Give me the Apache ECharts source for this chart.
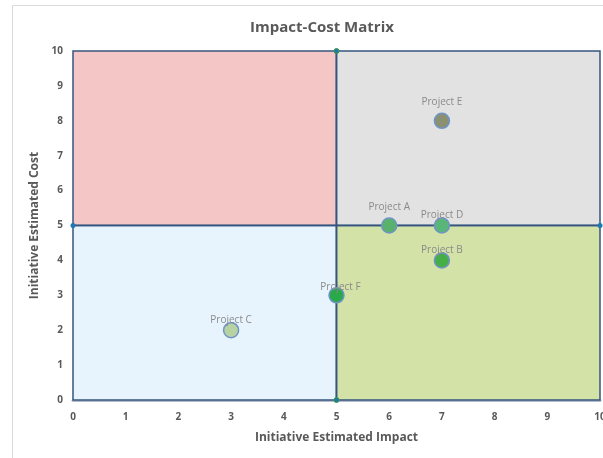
<!DOCTYPE html>
<html>
<head>
<meta charset="utf-8">
<script src="https://cdn.jsdelivr.net/npm/echarts@6/dist/echarts.min.js"></script>
<style>
  html, body { margin: 0; padding: 0; background: #fff; }
  #main { width: 603px; height: 458px; }
</style>
</head>
<body>
<div id="main"></div>
<script>
// data
var projectNames = ['Project A', 'Project B', 'Project C', 'Project D', 'Project E', 'Project F'];
var impact = [6, 7, 3, 7, 7, 5];
var cost = [5, 4, 2, 5, 8, 3];
var midImpact = 5;
var midCost = 5;

// styles
var pointColors = ['#58b26c', '#46ae47', '#b7d2a3', '#5ab579', '#8b9170', '#2aa94b'];
var labelGap = [5, -3, -3, -3, 5, -5];
var quadColors = { topLeft: '#f5c6c6', topRight: '#e2e2e2', bottomLeft: '#e8f4fd', bottomRight: '#d3e2a7' };
var edge = '#34557f';

var chartDom = document.getElementById('main');
var myChart = echarts.init(chartDom);
var option;

var points = projectNames.map(function (name, i) {
  return {
    name: name,
    value: [impact[i], cost[i]],
    itemStyle: { color: pointColors[i] },
    label: { distance: labelGap[i], offset: i === 5 ? [4, 0] : [0, 0] }
  };
});

option = {
  animation: false,
  textStyle: { fontFamily: 'Open Sans' },
  graphic: [
    {
      type: 'rect',
      shape: { x: 12.5, y: 5.5, width: 620, height: 480 },
      style: { fill: 'none', stroke: '#d9d9d9', lineWidth: 1 },
      silent: true
    }
  ],
  title: {
    text: 'Impact-Cost Matrix',
    left: 317,
    textAlign: 'center',
    top: 15,
    textStyle: { fontSize: 15, fontWeight: 'bold', color: '#595959', fontFamily: 'Open Sans' }
  },
  grid: { left: 73, right: 3, top: 51, bottom: 58, outerBoundsMode: 'none' },
  xAxis: {
    type: 'value',
    min: 0,
    max: 10,
    interval: 1,
    name: 'Initiative Estimated Impact',
    nameLocation: 'middle',
    nameGap: 32,
    nameTextStyle: { fontSize: 12, fontWeight: 'bold', color: '#595959' },
    axisLine: { show: true, lineStyle: { color: '#b4bccb', width: 3 } },
    axisTick: { show: false },
    splitLine: { show: false },
    axisLabel: { fontSize: 10, fontWeight: 'bold', color: '#595959', margin: 12 }
  },
  yAxis: {
    type: 'value',
    min: 0,
    max: 10,
    interval: 1,
    name: 'Initiative Estimated Cost',
    nameLocation: 'middle',
    nameGap: 27,
    nameTextStyle: { fontSize: 12, fontWeight: 'bold', color: '#595959' },
    axisLine: { show: false },
    axisTick: { show: false },
    splitLine: { show: false },
    axisLabel: { fontSize: 10, fontWeight: 'bold', color: '#595959', margin: 10 }
  },
  series: [
    {
      type: 'scatter',
      data: [],
      silent: true,
      markArea: {
        silent: true,
        data: [
          [{ coord: [0, midCost], itemStyle: { color: quadColors.topLeft, borderColor: edge, borderWidth: 1.5 } }, { coord: [midImpact, 10] }],
          [{ coord: [midImpact, midCost], itemStyle: { color: quadColors.topRight, borderColor: edge, borderWidth: 1.5 } }, { coord: [10, 10] }],
          [{ coord: [0, 0], itemStyle: { color: quadColors.bottomLeft, borderColor: edge, borderWidth: 1.5 } }, { coord: [midImpact, midCost] }],
          [{ coord: [midImpact, 0], itemStyle: { color: quadColors.bottomRight, borderColor: edge, borderWidth: 1.5 } }, { coord: [10, midCost] }]
        ]
      }
    },
    {
      type: 'line',
      data: [[midImpact, 0], [midImpact, 10]],
      symbol: 'circle',
      symbolSize: 5,
      itemStyle: { color: '#1f77b4', borderColor: '#3a9a3a', borderWidth: 1 },
      lineStyle: { color: edge, width: 1.5 },
      silent: true,
      z: 3
    },
    {
      type: 'line',
      data: [[0, midCost], [10, midCost]],
      symbol: 'circle',
      symbolSize: 5,
      itemStyle: { color: '#1f77b4' },
      lineStyle: { color: edge, width: 1.5 },
      silent: true,
      z: 3
    },
    {
      type: 'scatter',
      data: points,
      symbolSize: 15,
      z: 5,
      itemStyle: { borderColor: '#6f93c6', borderWidth: 1.5, opacity: 1 },
      label: {
        show: true,
        position: 'top',
        formatter: '{b}',
        fontSize: 10,
        color: '#8a8a8a'
      }
    }
  ]
};

option && myChart.setOption(option);
</script>
</body>
</html>
